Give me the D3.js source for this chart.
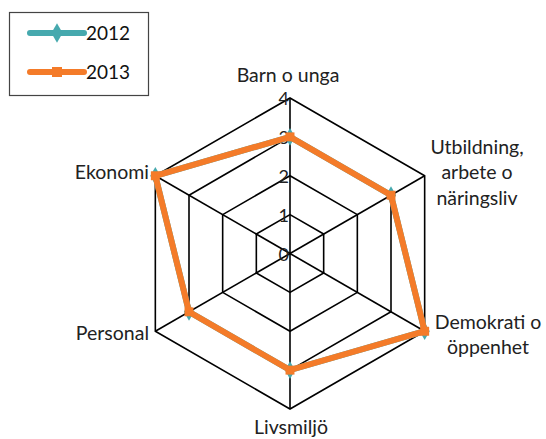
<!DOCTYPE html>
<html>
<head>
<meta charset="utf-8">
<script src="https://cdn.jsdelivr.net/npm/d3@7"></script>
<style>
  body { margin: 0; background: #fff; }
  svg { display: block; font-family: Lato, "Open Sans", sans-serif; }
</style>
</head>
<body>
<svg width="546" height="439"></svg>
<script>
// chart data
const categories = ["Barn o unga", "Utbildning, arbete o näringsliv", "Demokrati o öppenhet", "Livsmiljö", "Personal", "Ekonomi"];
const labelLines = [["Barn o unga"], ["Utbildning,", "arbete o", "näringsliv"], ["Demokrati o", "öppenhet"], ["Livsmiljö"], ["Personal"], ["Ekonomi"]];
const values2012 = [3, 3, 4, 3, 3, 4];
const values2013 = [3, 3, 4, 3, 3, 4];
const seriesNames = ["2012", "2013"];
const tickValues = [0, 1, 2, 3, 4];

const teal = "#46a9ae";
const orange = "#f47b29";

const svg = d3.select("svg");
const cx = 290, cy = 253.5;

const r = d3.scaleLinear().domain([0, 4]).range([0, 155.5]);
const angle = d3.scalePoint().domain(d3.range(categories.length)).range([0, 2 * Math.PI * 5 / 6]);

const g = svg.append("g").attr("transform", `translate(${cx},${cy})`);

function pt(i, v) {
    const a = angle(i);
    return [r(v) * Math.sin(a), -r(v) * Math.cos(a)];
}

// grid rings
const ring = d3.lineRadial()
    .angle((d, i) => angle(i))
    .radius(d => r(d))
    .curve(d3.curveLinearClosed);

g.selectAll(".ring")
    .data(tickValues.slice(1))
    .enter().append("path")
    .attr("class", "ring")
    .attr("d", t => ring(categories.map(() => t)))
    .attr("fill", "none")
    .attr("stroke", "#000")
    .attr("stroke-width", 1.6);

// spokes
g.selectAll(".spoke")
    .data(categories)
    .enter().append("line")
    .attr("class", "spoke")
    .attr("x1", 0).attr("y1", 0)
    .attr("x2", (d, i) => pt(i, 4)[0])
    .attr("y2", (d, i) => pt(i, 4)[1])
    .attr("stroke", "#000")
    .attr("stroke-width", 1.6);

// tick labels on the top spoke
g.selectAll(".tick")
    .data(tickValues)
    .enter().append("text")
    .attr("class", "tick")
    .attr("x", -1)
    .attr("y", t => -r(t))
    .attr("dy", "0.4em")
    .attr("text-anchor", "end")
    .attr("font-size", 18)
    .attr("fill", "#222")
    .text(t => t);

// series
const series = [
    { name: seriesNames[0], values: values2012, color: teal, shape: d3.symbolDiamond, size: 90 },
    { name: seriesNames[1], values: values2013, color: orange, shape: d3.symbolSquare, size: 80 }
];

const area = d3.lineRadial()
    .angle((d, i) => angle(i))
    .radius(d => r(d))
    .curve(d3.curveLinearClosed);

series.forEach(s => {
    const sg = g.append("g");
    sg.append("path")
        .attr("d", area(s.values))
        .attr("fill", "none")
        .attr("stroke", s.color)
        .attr("stroke-width", 6)
        .attr("stroke-linejoin", "miter");
    sg.selectAll("path.mark")
        .data(s.values)
        .enter().append("path")
        .attr("class", "mark")
        .attr("transform", (d, i) => `translate(${pt(i, d)})`)
        .attr("d", d3.symbol().type(s.shape).size(s.size))
        .attr("fill", s.color);
});

// category labels
const labelPos = [
    { x: 288, y: 75, anchor: "middle" },
    { x: 477, y: 147, anchor: "middle" },
    { x: 488, y: 322, anchor: "middle" },
    { x: 291, y: 427, anchor: "middle" },
    { x: 149, y: 333, anchor: "end" },
    { x: 149, y: 172, anchor: "end" }
];

labelLines.forEach((lines, i) => {
    const t = svg.append("text")
        .attr("x", labelPos[i].x)
        .attr("y", labelPos[i].y)
        .attr("text-anchor", labelPos[i].anchor)
        .attr("font-size", 19.5)
        .attr("fill", "#222");
    lines.forEach((ln, j) => {
        t.append("tspan")
            .attr("x", labelPos[i].x)
            .attr("dy", j === 0 ? "0.35em" : "1.3em")
            .text(ln);
    });
});

// legend
const legend = svg.append("g");
legend.append("rect")
    .attr("x", 9.5).attr("y", 12.5)
    .attr("width", 139).attr("height", 83)
    .attr("fill", "#fff")
    .attr("stroke", "#444")
    .attr("stroke-width", 1.2);

const item = legend.selectAll(".item")
    .data(series)
    .enter().append("g")
    .attr("class", "item")
    .attr("transform", (d, i) => `translate(0,${33 + i * 39})`);

item.append("line")
    .attr("x1", 30).attr("x2", 84)
    .attr("y1", 0).attr("y2", 0)
    .attr("stroke", d => d.color)
    .attr("stroke-width", 6)
    .attr("stroke-linecap", "round");

item.append("path")
    .attr("transform", "translate(57,0)")
    .attr("d", d => d3.symbol().type(d.shape).size(d.size + 20)())
    .attr("fill", d => d.color);

item.append("text")
    .attr("x", 86)
    .attr("y", 0)
    .attr("dy", "0.35em")
    .attr("font-size", 19)
    .attr("fill", "#111")
    .text(d => d.name);
</script>
</body>
</html>
